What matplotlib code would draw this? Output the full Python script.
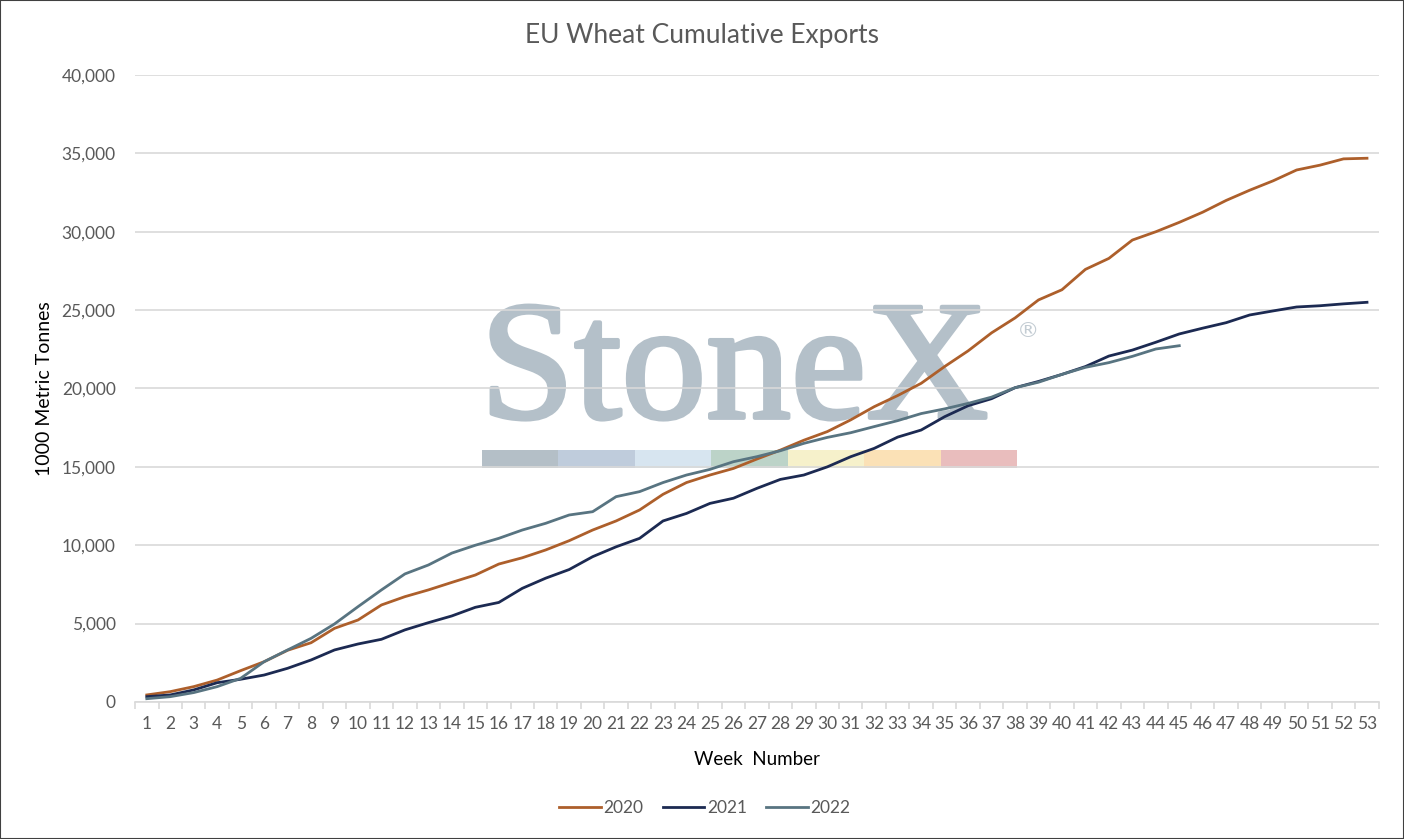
import matplotlib.pyplot as plt
import matplotlib.patheffects as pe
from matplotlib.patches import Rectangle
from matplotlib.ticker import FuncFormatter, MultipleLocator

plt.rcParams['font.family'] = ['Lato', 'DejaVu Sans']

weeks = list(range(1, 54))

exports_2020 = [450, 660, 980, 1400, 2000, 2570, 3300, 3780, 4700, 5230,
                6190, 6720, 7150, 7630, 8100, 8800, 9200, 9700, 10290, 10970,
                11550, 12250, 13250, 14000, 14480, 14900, 15500, 16070, 16700, 17250,
                18000, 18840, 19550, 20330, 21400, 22400, 23550, 24500, 25650, 26300,
                27600, 28300, 29470, 30000, 30600, 31250, 32000, 32650, 33250, 33940,
                34250, 34650, 34690]

exports_2021 = [340, 450, 770, 1230, 1450, 1720, 2150, 2680, 3320, 3700,
                4000, 4600, 5060, 5490, 6040, 6350, 7250, 7900, 8450, 9270,
                9900, 10440, 11550, 12030, 12670, 13000, 13630, 14200, 14480, 15000,
                15650, 16180, 16900, 17350, 18200, 18900, 19350, 20050, 20450, 20900,
                21400, 22070, 22450, 22950, 23480, 23850, 24200, 24690, 24950, 25200,
                25280, 25400, 25500]

weeks_2022 = list(range(1, 46))
exports_2022 = [210, 340, 600, 980, 1510, 2570, 3320, 4060, 4980, 6080,
                7150, 8170, 8740, 9500, 10000, 10440, 10970, 11400, 11930, 12140,
                13100, 13420, 14000, 14480, 14840, 15330, 15650, 16030, 16500, 16880,
                17180, 17570, 17950, 18400, 18700, 19050, 19450, 20050, 20400, 20900,
                21350, 21650, 22050, 22520, 22730]

fig = plt.figure(figsize=(14.04, 8.39), dpi=100)
ax = fig.add_axes([0.0962, 0.1633, 0.8858, 0.7473])
ax.set_facecolor('none')

# StoneX watermark behind the grid
wm = fig.text(0.342, 0.502, 'StoneX', fontsize=122, family='Liberation Serif',
              color='#b4c0c9', ha='left', va='baseline', zorder=-2)
wm.set_path_effects([pe.withStroke(linewidth=3, foreground='#b4c0c9')])
fig.text(0.724, 0.605, '\u00ae', fontsize=16, family='DejaVu Sans',
         color='#c3ccd3', ha='left', va='center', zorder=-2)
bar_colors = ['#b4bfc7', '#bfccdc', '#d7e5f0', '#bcd3c8', '#f6f1cb', '#fbe1b6', '#e9bdbd']
seg_w = (1017 - 482) / 7 / 1404
for i, c in enumerate(bar_colors):
    fig.add_artist(Rectangle((482 / 1404 + i * seg_w, (839 - 468) / 839), seg_w, 18 / 839,
                             transform=fig.transFigure, facecolor=c, edgecolor='none', zorder=-2))

ax.plot(weeks, exports_2020, color='#ad5f2b', lw=2.0, label='2020', zorder=3)
ax.plot(weeks, exports_2021, color='#1c2a52', lw=2.0, label='2021', zorder=3)
ax.plot(weeks_2022, exports_2022, color='#587481', lw=2.0, label='2022', zorder=3)

ax.set_xlim(0.5, 53.5)
ax.set_ylim(0, 40000)
ax.set_xticks(weeks)
ax.set_xticklabels([str(w) for w in weeks])
ax.xaxis.set_minor_locator(MultipleLocator(1, offset=0.5))
ax.yaxis.set_major_locator(MultipleLocator(5000))
ax.yaxis.set_major_formatter(FuncFormatter(lambda v, p: f'{int(v):,}'))
ax.grid(axis='y', color='#d9d9d9', lw=1.2, zorder=1)
ax.tick_params(axis='x', which='major', length=0, labelsize=12.5, labelcolor='#595959', pad=10)
ax.tick_params(axis='x', which='minor', length=5, color='#d9d9d9', width=1.2)
ax.tick_params(axis='y', length=0, labelsize=12.5, labelcolor='#595959', pad=14)
for s in ['top', 'right', 'left']:
    ax.spines[s].set_visible(False)
ax.spines['bottom'].set_color('#d9d9d9')
ax.spines['bottom'].set_linewidth(1.2)

fig.text(0.5, (839 - 35) / 839, 'EU Wheat Cumulative Exports', fontsize=19,
         color='#595959', ha='center', va='center')
ax.set_xlabel('Week  Number', fontsize=13.5, color='black', labelpad=14)
ax.set_ylabel('1000 Metric Tonnes', fontsize=14, color='black', labelpad=6)

fig.legend(loc='center', bbox_to_anchor=(0.502, 0.037), ncol=3, frameon=False,
           fontsize=12.5, labelcolor='#595959', handlelength=2.4, columnspacing=1.1,
           handletextpad=0.15)

fig.add_artist(Rectangle((0, 0), 1, 1, transform=fig.transFigure, fill=False,
                         edgecolor='#404040', lw=1.5))

fig.savefig('out.png', dpi=100)
